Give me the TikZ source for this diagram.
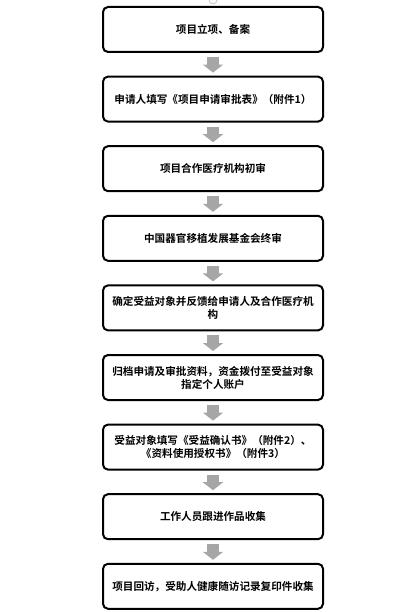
\documentclass[tikz,border=0pt]{standalone}
\usepackage{fontspec}
\newfontfamily\cjk{Noto Sans CJK SC}[BoldFont={Noto Sans CJK SC Bold}]
\usetikzlibrary{arrows.meta}

\begin{document}
\begin{tikzpicture}[x=1pt,y=-1pt]
	\useasboundingbox (0,0) rectangle (415,612);
	\draw [gray!80,thin] (213,0) circle (4);
	\begin{scope}[every node/.style={rectangle,rounded corners=5pt,draw,line width=2pt,
		minimum width=220pt,minimum height=45pt,text width=214pt,align=center,
		inner sep=0pt,font=\cjk\bfseries\fontsize{10.6}{13}\selectfont}]
	\node (A) at (213,29.5) {项目立项、备案};
	\node (B) at (213,99.1) {申请人填写《项目申请审批表》（附件1）};
	\node (C) at (213,168.7) {项目合作医疗机构初审};
	\node (D) at (213,238.3) {中国器官移植发展基金会终审};
	\node (E) at (213,307.9) {确定受益对象并反馈给申请人及合作医疗机\\构};
	\node (F) at (213,377.5) {归档申请及审批资料，资金拨付至受益对象\\指定个人账户};
	\node (G) at (213,447.1) {受益对象填写《受益确认书》（附件2）、\\《资料使用授权书》（附件3）};
	\node (H) at (213,516.7) {工作人员跟进作品收集};
	\node (I) at (213,586.3) {项目回访，受助人健康随访记录复印件收集};
	\end{scope}
	\tikzset{flow/.style={draw=gray!70,line width=12pt,shorten <=4pt,shorten >=3pt,
		-{Triangle[width=20pt,length=8pt]}}}
	\draw [flow] (A) -- (B);
	\draw [flow] (B) -- (C);
	\draw [flow] (C) -- (D);
	\draw [flow] (D) -- (E);
	\draw [flow] (E) -- (F);
	\draw [flow] (F) -- (G);
	\draw [flow] (G) -- (H);
	\draw [flow] (H) -- (I);
\end{tikzpicture}
\end{document}
